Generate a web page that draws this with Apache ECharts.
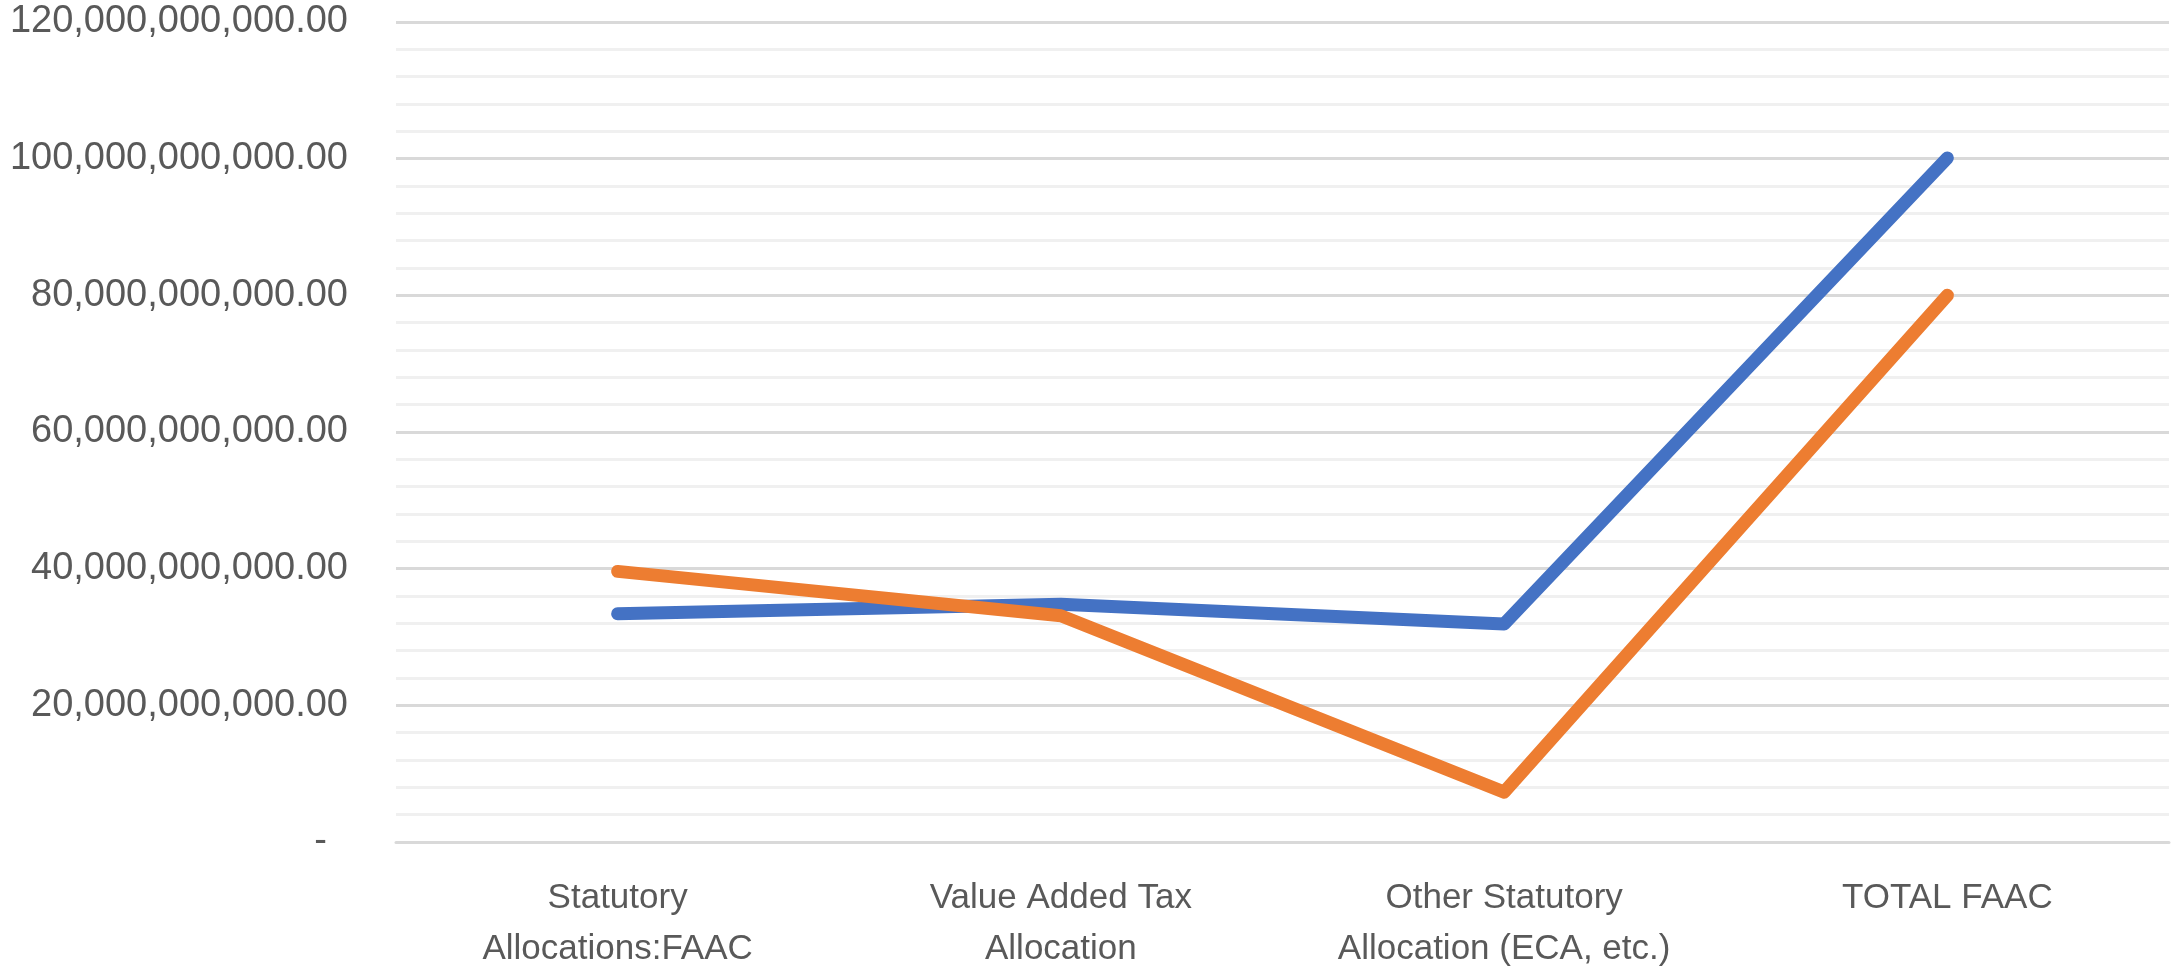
<!DOCTYPE html>
<html>
<head>
<meta charset="utf-8">
<title>FAAC Allocations</title>
<script src="https://cdn.jsdelivr.net/npm/echarts@6/dist/echarts.min.js"></script>
<style>
  html, body { margin: 0; padding: 0; background: #ffffff; }
  #chart { width: 2171px; height: 969px; }
</style>
</head>
<body>
<div id="chart"></div>
<script>
// Allocation categories along the x axis
const categories = [
  'Statutory\nAllocations:FAAC',
  'Value Added Tax\nAllocation',
  'Other Statutory\nAllocation (ECA, etc.)',
  'TOTAL FAAC'
];

// Two allocation series (naira)
const seriesBlue = [33400000000, 34800000000, 31900000000, 100100000000];
const seriesOrange = [39600000000, 33100000000, 7300000000, 80000000000];

// Value axis range and tick step
const yMin = 0;
const yMax = 120000000000;
const yStep = 20000000000;

function formatAmount(v) {
  if (v === 0) return '-  ';
  return v.toLocaleString('en-US', { minimumFractionDigits: 2, maximumFractionDigits: 2 });
}

const chart = echarts.init(document.getElementById('chart'), null, { renderer: 'canvas' });

const textColor = '#595959';
const fontFamily = '"Liberation Sans", Arial, sans-serif';

chart.setOption({
  animation: false,
  backgroundColor: '#ffffff',
  grid: {
    left: 396, right: 2, top: 22, bottom: 127,
    containLabel: false,
    outerBoundsMode: 'none'
  },
  xAxis: {
    type: 'category',
    data: categories,
    boundaryGap: true,
    axisLine: { show: true, lineStyle: { color: '#d9d9d9', width: 3 } },
    axisTick: { show: false },
    axisLabel: {
      color: textColor,
      fontFamily: fontFamily,
      fontSize: 35,
      lineHeight: 51,
      margin: 31,
      interval: 0
    },
    splitLine: { show: false }
  },
  yAxis: {
    type: 'value',
    min: yMin,
    max: yMax,
    interval: yStep,
    axisLine: { show: false },
    axisTick: { show: false },
    axisLabel: {
      color: textColor,
      fontFamily: fontFamily,
      fontSize: 38,
      margin: 48,
      padding: [5, 0, 0, 0],
      formatter: formatAmount
    },
    splitLine: { show: true, lineStyle: { color: '#d9d9d9', width: 3 } },
    minorTick: { show: false, splitNumber: 5 },
    minorSplitLine: { show: true, lineStyle: { color: '#f0f0f0', width: 3 } }
  },
  series: [
    {
      name: 'Series 1',
      type: 'line',
      data: seriesBlue,
      symbol: 'none',
      smooth: false,
      lineStyle: { color: '#4472C4', width: 13, cap: 'round', join: 'round' },
      itemStyle: { color: '#4472C4' }
    },
    {
      name: 'Series 2',
      type: 'line',
      data: seriesOrange,
      symbol: 'none',
      smooth: false,
      lineStyle: { color: '#ED7D31', width: 13, cap: 'round', join: 'round' },
      itemStyle: { color: '#ED7D31' }
    }
  ]
});
</script>
</body>
</html>
